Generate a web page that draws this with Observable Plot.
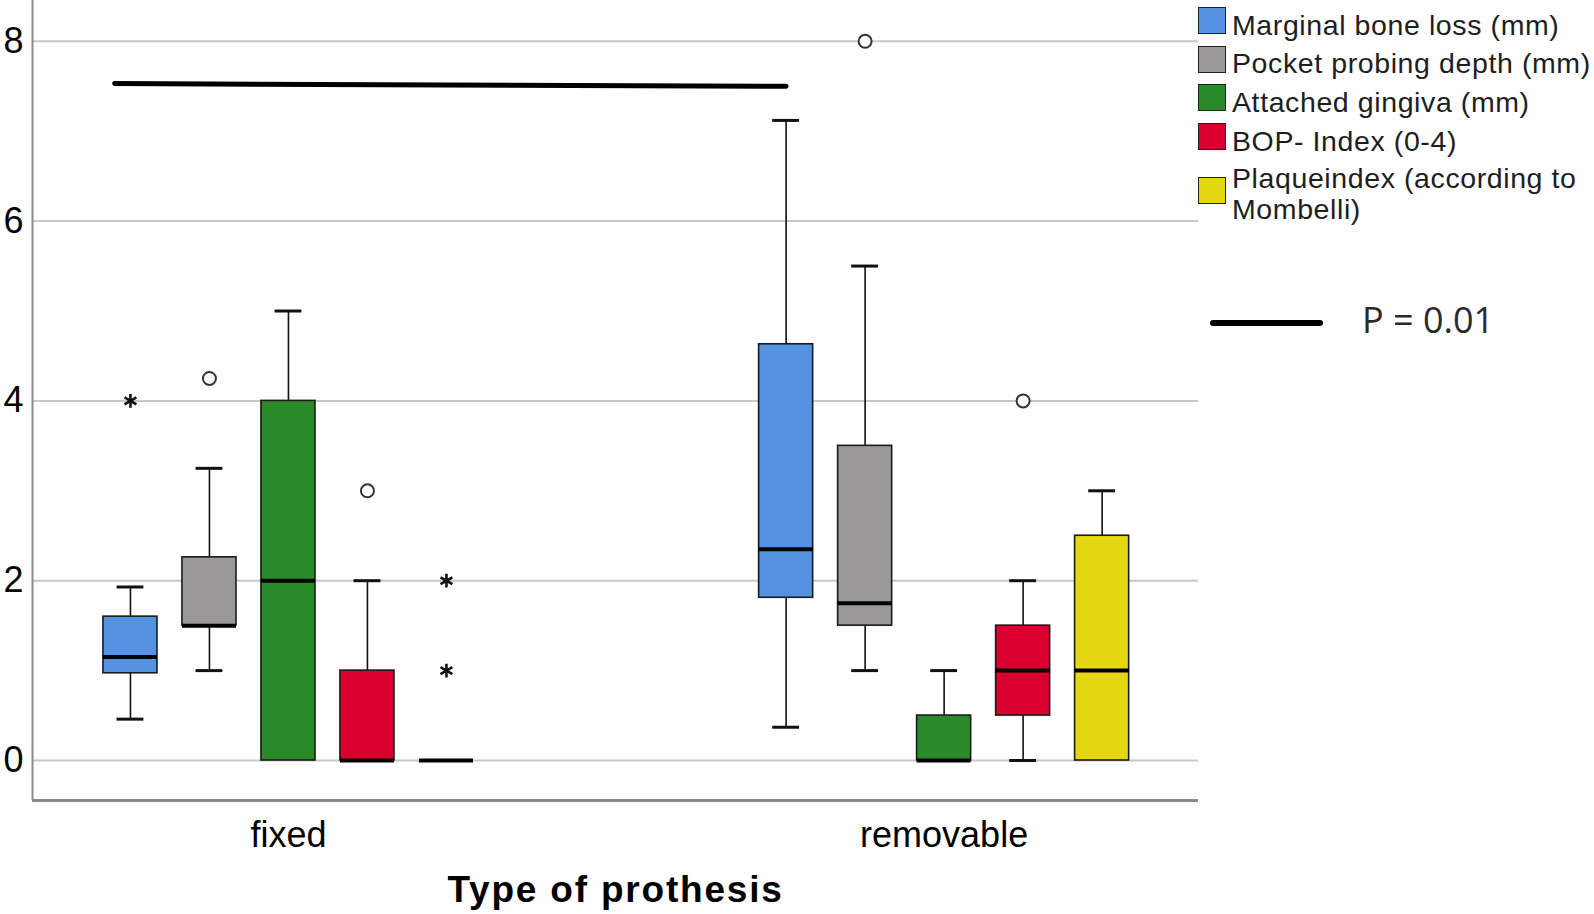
<!DOCTYPE html>
<html>
<head>
<meta charset="utf-8">
<script src="https://cdn.jsdelivr.net/npm/d3@7"></script>
<script src="https://cdn.jsdelivr.net/npm/@observablehq/plot@0.6"></script>
<style>
  body { margin: 0; background: #fff; }
  #wrap { position: relative; width: 1594px; height: 914px; font-family: "Liberation Sans", Arial, sans-serif; }
  #wrap svg { position: absolute; left: 0; top: 0; }
  #wrap svg g[aria-label="text"] text { letter-spacing: 1.8px; }
  .lg-sq { position: absolute; left: 1198px; width: 26px; height: 25px; border: 1.5px solid #222; }
  .lg-tx { position: absolute; left: 1232px; font-size: 28.5px; line-height: 31px; letter-spacing: 0.6px; color: #1e1e1e; white-space: nowrap; }
  .p-line { position: absolute; left: 1210px; top: 320px; width: 113px; height: 6px; background: #000; border-radius: 3px; }
  .p-tx { position: absolute; left: 1362px; top: 296px; font-family: "Open Sans", "Noto Sans", sans-serif; font-size: 36px; line-height: 48px; color: #2a2a2a; white-space: nowrap; }
</style>
</head>
<body>
<div id="wrap"></div>
<script>
// ---- data ----
const types = ["fixed", "removable"];
const variables = [
  "Marginal bone loss (mm)",
  "Pocket probing depth (mm)",
  "Attached gingiva (mm)",
  "BOP- Index (0-4)",
  "Plaqueindex (according to Mombelli)"
];
// legend label lines
const legendLines = [
  ["Marginal bone loss (mm)"],
  ["Pocket probing depth (mm)"],
  ["Attached gingiva (mm)"],
  ["BOP- Index (0-4)"],
  ["Plaqueindex (according to", "Mombelli)"]
];
const colors = ["#5492e2", "#9a9898", "#2a8a2a", "#d9002f", "#e5d812"];

// one row per type, one value per variable
const lowerWhisker = [[0.46, 1.00, 0, 0, 0], [0.37, 1.00, 0, 0, 0]];
const q1           = [[0.97, 1.50, 0, 0, 0], [1.81, 1.50, 0, 0.5, 0]];
const median       = [[1.15, 1.50, 2, 0, 0], [2.35, 1.75, 0, 1.0, 1.0]];
const q3           = [[1.60, 2.26, 4, 1, 0], [4.63, 3.50, 0.5, 1.5, 2.5]];
const upperWhisker = [[1.93, 3.25, 5, 2, 0], [7.12, 5.50, 1.0, 2.0, 3.0]];

// outliers (circles)
const outlierType  = ["fixed", "fixed", "removable", "removable"];
const outlierVar   = [1, 3, 1, 3];
const outlierValue = [4.25, 3.0, 8.0, 4.0];

// extreme values (stars)
const extremeType  = ["fixed", "fixed", "fixed"];
const extremeVar   = [0, 4, 4];
const extremeValue = [4.0, 2.0, 1.0];

// significance bar
const sigVar = 0;
const sigFrom = "fixed", sigTo = "removable";
const sigValueStart = 7.53, sigValueEnd = 7.50;
const sigLabel = "P = 0.01";

const yTicks = [0, 2, 4, 6, 8];
const xTitle = "Type of prothesis";

// ---- layout constants ----
const GROUP_STEP = 8.30;       // distance between group centers, in box slots
const HALF = 0.342;            // half box width, in slots
const CAP = 0.17;              // half whisker-cap width
const SIG_OVERHANG = 0.2;
const xDomain = [-3.24, GROUP_STEP + 3.22];
const yDomain = [-0.445, 8.454];

const xPos = (ti, vi) => ti * GROUP_STEP + (vi - 2);

const boxes = [];
types.forEach((t, ti) => variables.forEach((v, vi) => {
  boxes.push({
    type: t, variable: v, x: xPos(ti, vi),
    lw: lowerWhisker[ti][vi], q1: q1[ti][vi], med: median[ti][vi],
    q3: q3[ti][vi], uw: upperWhisker[ti][vi]
  });
}));
const outliers = outlierValue.map((val, i) => ({x: xPos(types.indexOf(outlierType[i]), outlierVar[i]), y: val}));
const extremes = extremeValue.map((val, i) => ({x: xPos(types.indexOf(extremeType[i]), extremeVar[i]), y: val}));
const sig = [{
  x1: xPos(types.indexOf(sigFrom), sigVar) - SIG_OVERHANG,
  x2: xPos(types.indexOf(sigTo), sigVar),
  y1: sigValueStart, y2: sigValueEnd
}];

const chart = Plot.plot({
  width: 1594,
  height: 914,
  marginLeft: 32,
  marginRight: 396,
  marginTop: 0,
  marginBottom: 114,
  style: {fontFamily: "'Liberation Sans', Arial, sans-serif", fontSize: "36px", color: "#000", background: "transparent"},
  x: {domain: xDomain, ticks: types.map((t, i) => i * GROUP_STEP), tickFormat: d => types[Math.round(d / GROUP_STEP)], tickSize: 0, tickPadding: 21, label: null},
  y: {domain: yDomain, ticks: yTicks, tickSize: 0, tickPadding: 9, label: null},
  color: {domain: variables, range: colors},
  marks: [
    Plot.ruleY(yTicks, {stroke: "#c8c8c8", strokeWidth: 2}),
    Plot.ruleX([xDomain[0]], {stroke: "#8a8a8a", strokeWidth: 2}),
    Plot.ruleY([yDomain[0]], {stroke: "#8a8a8a", strokeWidth: 3}),
    Plot.link(sig, {x1: "x1", x2: "x2", y1: "y1", y2: "y2", stroke: "#000", strokeWidth: 5, strokeLinecap: "round"}),
    // whiskers
    Plot.ruleX(boxes.filter(d => d.uw > d.q3), {x: "x", y1: "q3", y2: "uw", stroke: "#111", strokeWidth: 1.6}),
    Plot.ruleX(boxes.filter(d => d.lw < d.q1), {x: "x", y1: "lw", y2: "q1", stroke: "#111", strokeWidth: 1.6}),
    Plot.ruleY(boxes.filter(d => d.uw > d.q3), {y: "uw", x1: d => d.x - CAP, x2: d => d.x + CAP, stroke: "#111", strokeWidth: 3}),
    Plot.ruleY(boxes.filter(d => d.lw < d.q1), {y: "lw", x1: d => d.x - CAP, x2: d => d.x + CAP, stroke: "#111", strokeWidth: 3}),
    // boxes
    Plot.rect(boxes, {x1: d => d.x - HALF, x2: d => d.x + HALF, y1: "q1", y2: "q3", fill: "variable", stroke: "#1a1a1a", strokeWidth: 1.6}),
    // medians
    Plot.ruleY(boxes, {y: "med", x1: d => d.x - HALF, x2: d => d.x + HALF, stroke: "#000", strokeWidth: 4}),
    // outliers
    Plot.dot(outliers, {x: "x", y: "y", r: 6.5, stroke: "#333", strokeWidth: 2, fill: "white"}),
    Plot.dot(extremes, {x: "x", y: "y", symbol: "asterisk", r: 6.5, stroke: "#111", strokeWidth: 2.6}),
    // axis title
    Plot.text([xTitle], {frameAnchor: "bottom", dy: 101, fontSize: 37, fontWeight: "bold", fill: "#000"})
  ]
});

const wrap = document.getElementById("wrap");
wrap.appendChild(chart);

// legend
const sqTops = [7, 46, 84, 123, 177];
const txTops = [[10], [48], [87], [126], [163, 194]];
variables.forEach((v, i) => {
  const sq = document.createElement("div");
  sq.className = "lg-sq";
  sq.style.top = sqTops[i] + "px";
  sq.style.background = colors[i];
  wrap.appendChild(sq);
  legendLines[i].forEach((line, j) => {
    const tx = document.createElement("div");
    tx.className = "lg-tx";
    tx.style.top = txTops[i][j] + "px";
    tx.textContent = line;
    wrap.appendChild(tx);
  });
});
const pl = document.createElement("div");
pl.className = "p-line";
wrap.appendChild(pl);
const pt = document.createElement("div");
pt.className = "p-tx";
pt.textContent = sigLabel;
wrap.appendChild(pt);
</script>
</body>
</html>
